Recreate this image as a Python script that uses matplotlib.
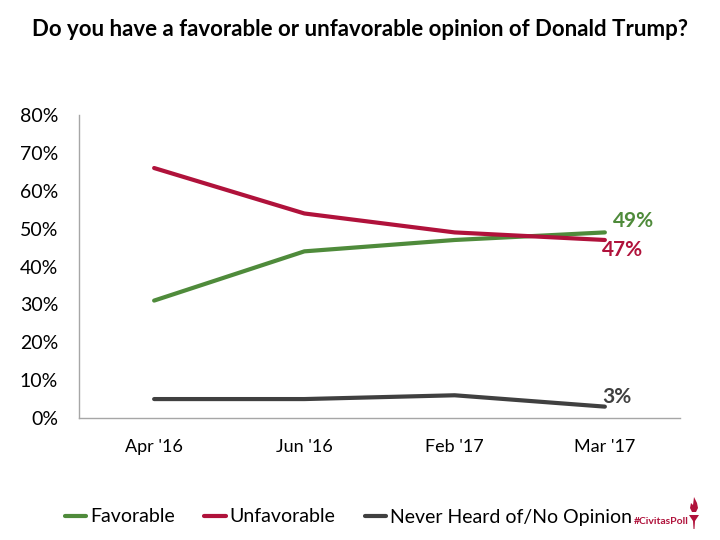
import matplotlib
matplotlib.use("Agg")
import matplotlib.pyplot as plt
from matplotlib.ticker import FuncFormatter
from matplotlib.patches import Polygon

plt.rcParams['font.family'] = ['Lato', 'DejaVu Sans']

categories = ["Apr '16", "Jun '16", "Feb '17", "Mar '17"]
favorable = [31, 44, 47, 49]
unfavorable = [66, 54, 49, 47]
never_heard = [5, 5, 6, 3]
yticks = [0, 10, 20, 30, 40, 50, 60, 70, 80]

c_fav = "#4F8B3B"
c_unf = "#B0123B"
c_nev = "#404040"

fig = plt.figure(figsize=(7.2, 5.4), dpi=100)
ax = fig.add_axes([79/720, 1-418/540, 601/720, 303/540])

x = list(range(len(categories)))
ax.plot(x, favorable, color=c_fav, lw=3, label="Favorable", solid_capstyle='round')
ax.plot(x, unfavorable, color=c_unf, lw=3, label="Unfavorable", solid_capstyle='round')
ax.plot(x, never_heard, color=c_nev, lw=3, label="Never Heard of/No Opinion", solid_capstyle='round')

ax.set_xlim(-0.5, 3.5)
ax.set_ylim(0, 80)
ax.set_yticks(yticks)
ax.yaxis.set_major_formatter(FuncFormatter(lambda v, p: f"{int(v)}%"))
ax.set_xticks(x)
ax.set_xticklabels(categories)
ax.tick_params(axis='both', length=0, labelsize=13, colors='#000000')
ax.tick_params(axis='y', pad=15, labelsize=14)
ax.tick_params(axis='x', pad=15)
for s in ['top', 'right']:
    ax.spines[s].set_visible(False)
for s in ['left', 'bottom']:
    ax.spines[s].set_color('#A6A6A6')
    ax.spines[s].set_linewidth(1)

ax.annotate(f"{favorable[-1]}%", (x[-1], favorable[-1]), xytext=(6, 8), textcoords='offset points',
            color=c_fav, fontsize=15, fontweight='bold', ha='left', va='center')
ax.annotate(f"{unfavorable[-1]}%", (x[-1], unfavorable[-1]), xytext=(-2, -7), textcoords='offset points',
            color=c_unf, fontsize=15, fontweight='bold', ha='left', va='center')
ax.annotate(f"{never_heard[-1]}%", (x[-1], never_heard[-1]), xytext=(-2, 7), textcoords='offset points',
            color=c_nev, fontsize=15, fontweight='bold', ha='left', va='center')

fig.text(0.5, 1-30/540, "Do you have a favorable or unfavorable opinion of Donald Trump?",
         ha='center', va='center', fontsize=16, fontweight='bold')

leg = fig.legend(loc='center', bbox_to_anchor=(0.484, 1-517/540), ncol=3, frameon=False,
                 fontsize=14, handlelength=1.1, handletextpad=0.2, columnspacing=1.5)

fig.text(689/720, 1-521/540, "#CivitasPoll", color=c_unf, fontsize=7.5, fontweight='bold',
         ha='right', va='center')

# small torch logo
def px(xp, yp):
    return (xp/720, 1-yp/540)
cup = Polygon([px(689, 515), px(699, 515), px(695, 521), px(694.5, 529), px(693.5, 529), px(693, 521)],
              closed=True, transform=fig.transFigure, color=c_unf, lw=0)
flame = Polygon([px(694, 497), px(697, 503), px(698, 508), px(696, 512), px(692, 512),
                 px(690, 508), px(691, 503), px(693, 505)],
                closed=True, transform=fig.transFigure, color=c_unf, lw=0)
fig.patches.extend([cup, flame])

fig.savefig("out.png", dpi=100)
